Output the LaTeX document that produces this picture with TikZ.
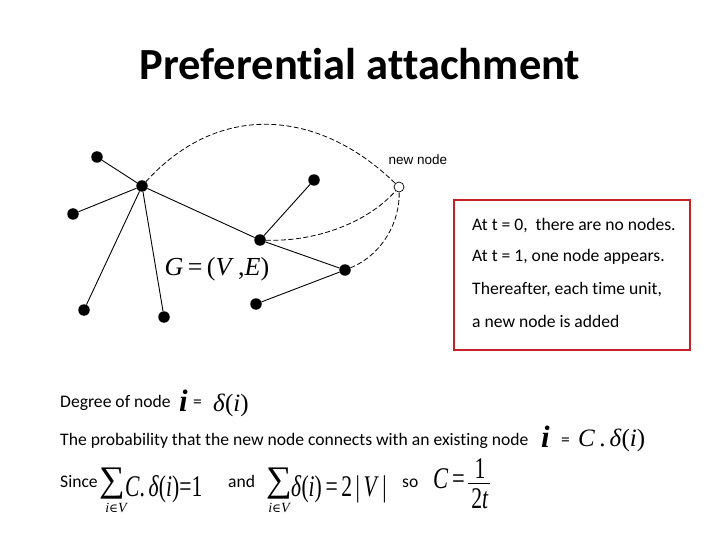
\documentclass[tikz,border=0pt]{standalone}
\usepackage{graphicx}
\usepackage{fontspec}
\setmainfont{Carlito}[Ligatures=NoCommon]
\newfontfamily\tms{Liberation Serif}
\newfontfamily\arl{Liberation Sans}
\newfontfamily\dvs{DejaVu Serif}
\definecolor{boxred}{RGB}{200,32,38}
\tikzset{
  dot/.style={circle,fill=black,inner sep=0pt,minimum size=11.5pt},
  opendot/.style={circle,draw=black,fill=white,line width=0.7pt,inner sep=0pt,minimum size=10pt},
  edge/.style={line width=0.9pt},
  dedge/.style={line width=0.8pt,dash pattern=on 5pt off 2.5pt},
  txt/.style={anchor=base west,inner sep=0pt,font=\fontsize{17.6}{20}\selectfont},
  frm/.style={anchor=base west,inner sep=0pt,font=\tms\fontsize{25}{28}\selectfont},
  tall/.style={anchor=base west,inner sep=0pt,font=\tms\fontsize{30}{32}\selectfont},
  bi/.style={anchor=base west,inner sep=0pt,font=\tms\bfseries\itshape\fontsize{31}{33}\selectfont},
  sumsign/.style={inner sep=0pt,font=\tms\fontsize{36}{38}\selectfont},
  sumsub/.style={inner sep=0pt,font=\tms\itshape\fontsize{14}{15}\selectfont},
}
\begin{document}
\begin{tikzpicture}[x=1pt,y=-1pt]
\useasboundingbox (0,0) rectangle (720,540);
% title
\node[inner sep=0pt,anchor=base,font=\fontsize{44.5}{50}\selectfont\bfseries] (title) at (360,80) {Preferential attachment};
% graph
\node[dot] (n1) at (97,157) {};
\node[dot] (hub) at (142,186) {};
\node[dot] (n3) at (73,214) {};
\node[dot] (n4) at (84,310) {};
\node[dot] (n5) at (164,317) {};
\node[dot] (mid) at (260,240) {};
\node[dot] (n7) at (314,180) {};
\node[dot] (n8) at (345,270) {};
\node[dot] (n9) at (256,304) {};
\node[opendot] (new) at (399,187) {};
\node[inner sep=0pt,anchor=base,font=\arl\fontsize{13.5}{15}\selectfont] (newlbl) at (418,165) {new node};
\node[inner sep=0pt,anchor=base,font=\tms\fontsize{26}{30}\selectfont] (G) at (217,275) {\textit{G}\,=\,(\textit{V}\,,\textit{E})};
\draw[edge] (n1) -- (hub);
\draw[edge] (n3) -- (hub);
\draw[edge] (n4) -- (hub);
\draw[edge] (n5) -- (hub);
\draw[edge] (hub) -- (mid);
\draw[edge] (mid) -- (n7);
\draw[edge] (mid) -- (n8);
\draw[edge] (n8) -- (n9);
\draw[dedge] (hub) .. controls (220,100) and (320,110) .. (new);
\draw[dedge] (mid) .. controls (320,242) and (370,220) .. (new);
\draw[dedge] (n8) .. controls (382,255) and (400,222) .. (new);
% red box
\node[draw=boxred,line width=2.2pt,minimum width=236pt,minimum height=150pt,anchor=north west,inner sep=0pt] (box) at (453,199) {};
\node[txt] (b1) at (472,230) {At t = 0,\ \ there are no nodes.};
\node[txt] (b2) at (472,261) {At t = 1, one node appears.};
\node[txt] (b3) at (472,294) {Thereafter, each time unit,};
\node[txt] (b4) at (472,327) {a new node is added};
% line 1
\node[txt] (l1) at (60,407) {Degree of node};
\node[bi] (i1) at (179,411) {i};
\node[txt] (eq1) at (193,407) {=};
\node[frm] (d1) at (213,411) {\textit{δ}(\textit{i})};
% line 2
\node[txt] (l2) at (60,445) {The probability that the new node connects with an existing node};
\node[bi] (i2) at (541,447) {i};
\node[txt] (eq2) at (561,445) {=};
\node[frm] (d2) at (578,446) {\textit{C}\,.\,\textit{δ}(\textit{i})};
% line 3
\node[txt] (since) at (60,487) {Since};
\node[sumsign] (s1) at (112,484) {∑};
\node[sumsub] (s1sub) at (116,508) {i{\upshape\dvs\fontsize{12}{13}\selectfont ∈}V};
\node[tall] (f1) at (125,496) {\scalebox{0.72}[1]{\textit{C}.\,\textit{δ}(\textit{i})=1}};
\node[txt] (and) at (228,487) {and};
\node[sumsign] (s2) at (279,484) {∑};
\node[sumsub] (s2sub) at (279,508) {i{\upshape\dvs\fontsize{12}{13}\selectfont ∈}V};
\node[tall] (f2) at (291,496) {\scalebox{0.72}[1]{\textit{δ}(\textit{i})\,=\,2\,|\,\textit{V}\,|}};
\node[txt] (so) at (402,487) {so};
\node[tall] (cc) at (433,488) {\scalebox{0.75}[1]{\textit{C}\,=}};
\node[inner sep=0pt,anchor=base,font=\tms\fontsize{30}{32}\selectfont] (num) at (480,478) {\scalebox{0.72}[1]{1}};
\draw[line width=0.8pt] (468,483) -- (490,483);
\node[inner sep=0pt,anchor=base,font=\tms\fontsize{30}{32}\selectfont] (den) at (480,508) {\scalebox{0.72}[1]{2\textit{t}}};
\end{tikzpicture}
\end{document}
